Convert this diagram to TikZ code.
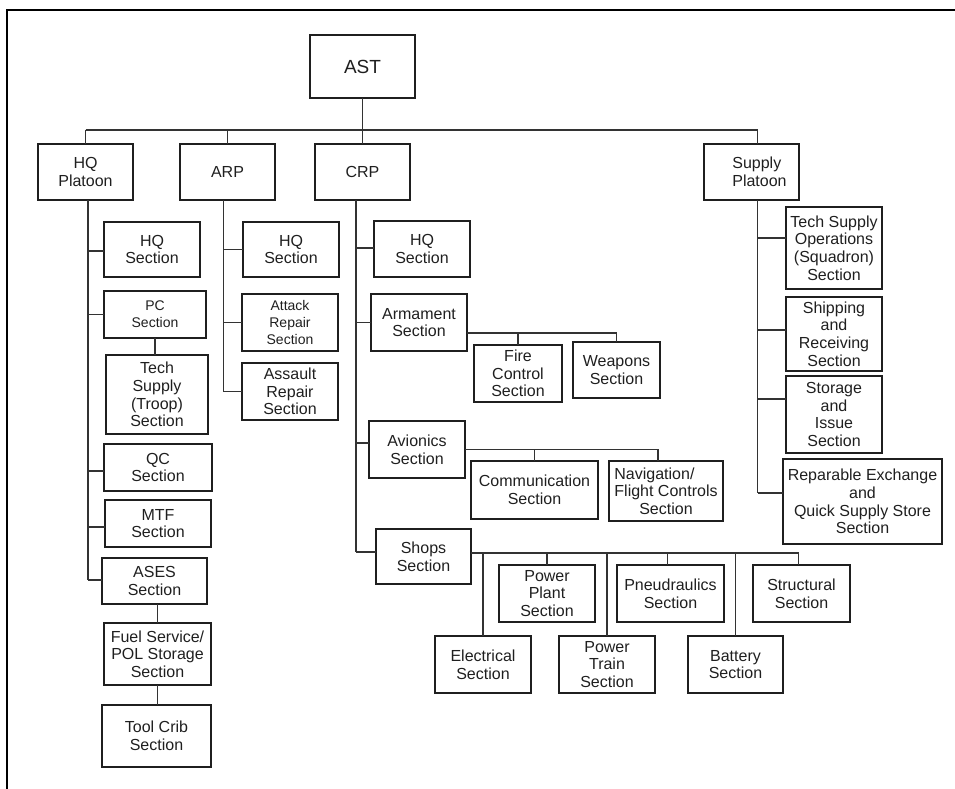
\documentclass[tikz,border=0pt]{standalone}
\usepackage{fontspec}
\setmainfont{Liberation Sans}

\tikzset{
  box/.style={draw=black!88, line width=1.6pt, inner sep=0pt, outer sep=0pt,
    align=center, text=black!88, font=\fontsize{16}{17.7}\selectfont},
  small/.style={font=\fontsize{14}{17}\selectfont},
  big/.style={font=\fontsize{19}{22}\selectfont},
  link/.style={draw=black!80, line width=1.2pt},
  frame/.style={draw=black, line width=2pt},
}

% \orgbox[opts]{name}{x1}{y1}{x2}{y2}{text}: box given by its corners (y grows downward)
\newcommand\orgbox[7][]{%
  \node[box,#1,minimum width={#5-#3},minimum height={#6-#4}] (#2)
    at ({(#3+#5)/2},{-(#4+#6)/2}) {#7};}

% \branch{spine}{node}{dy}: horizontal tie from a vertical spine to a node's west side
\newcommand\branch[3]{%
  \coordinate (brpt) at ([yshift=#3]#2.west);
  \draw[link] (#1 |- brpt) -- (brpt);}

\begin{document}
\begin{tikzpicture}[x=1pt,y=1pt]
\useasboundingbox (0,0) rectangle (955,-789);

% page frame (top and left rules)
\coordinate (fbl) at (7,-789);
\coordinate (ftl) at (7,-10);
\coordinate (ftr) at (955,-10);
\draw[frame] (fbl) -- (ftl) -- (ftr);

% top levels
\orgbox[big]{ast}{310}{35}{415}{98}{AST}
\orgbox{hqp}{38}{144}{133}{200}{HQ\\Platoon}
\orgbox{arp}{180}{144}{275}{200}{ARP}
\orgbox{crp}{315}{144}{410}{200}{CRP}
\orgbox[align=left]{sup}{704}{144}{799}{200}{\hspace*{16pt}Supply\\\hspace*{16pt}Platoon}

% HQ Platoon
\orgbox{hqs1}{104}{222}{200}{277}{HQ\\Section}
\orgbox[small]{pc}{104}{291}{206}{338}{PC\\Section}
\orgbox{tst}{106}{355}{208}{434}{Tech\\Supply\\(Troop)\\Section}
\orgbox{qc}{104}{444}{212}{491}{QC\\Section}
\orgbox{mtf}{105}{500}{211}{547}{MTF\\Section}
\orgbox{ases}{102}{558}{207}{604}{ASES\\Section}
\orgbox{fuel}{104}{623}{211}{685}{Fuel Service/\\POL Storage\\Section}
\orgbox{tool}{102}{705}{211}{767}{Tool Crib\\Section}

% ARP
\orgbox{hqs2}{243}{222}{339}{277}{HQ\\Section}
\orgbox[small]{atk}{242}{294}{338}{351}{Attack\\Repair\\Section}
\orgbox{asl}{242}{363}{338}{420}{Assault\\Repair\\Section}

% CRP
\orgbox{hqs3}{374}{221}{470}{277}{HQ\\Section}
\orgbox{arm}{371}{294}{467}{351}{Armament\\Section}
\orgbox{fc}{474}{345}{562}{402}{Fire\\Control\\Section}
\orgbox{wpn}{573}{342}{660}{398}{Weapons\\Section}
\orgbox{avi}{369}{421}{465}{478}{Avionics\\Section}
\orgbox{com}{471}{461}{598}{519}{Communication\\Section}
\orgbox{nav}{609}{461}{723}{521}{\rlap{Navigation/}\phantom{Flight Controls}\\Flight Controls\\Section}
\orgbox{shp}{376}{529}{471}{584}{Shops\\Section}
\orgbox{ele}{435}{636}{531}{693}{Electrical\\Section}
\orgbox{ppl}{499}{565}{595}{622}{Power\\Plant\\Section}
\orgbox{ptr}{559}{636}{655}{693}{Power\\Train\\Section}
\orgbox{pne}{617}{565}{724}{622}{Pneudraulics\\Section}
\orgbox{bat}{688}{636}{783}{693}{Battery\\Section}
\orgbox{str}{753}{565}{850}{622}{Structural\\Section}

% Supply Platoon
\orgbox{tso}{786}{207}{882}{289}{Tech Supply\\Operations\\(Squadron)\\Section}
\orgbox{shi}{786}{297}{882}{371}{Shipping\\and\\Receiving\\Section}
\orgbox{sti}{786}{376}{882}{453}{Storage\\and\\Issue\\Section}
\orgbox{rep}{783}{459}{942}{544}{Reparable Exchange\\and\\Quick Supply Store\\Section}

% top bus
\coordinate (bus) at (0,-130);
\coordinate (supdrop) at ([xshift=6pt]sup.north);
\draw[link] (ast.south) -- (ast.south |- bus);
\draw[link] (hqp.north |- bus) -- (supdrop |- bus);
\draw[link] (hqp.north |- bus) -- (hqp.north);
\draw[link] (arp.north |- bus) -- (arp.north);
\draw[link] (crp.north |- bus) -- (crp.north);
\draw[link] (supdrop |- bus) -- (supdrop);

% HQ Platoon spine
\coordinate (hqsp) at ([xshift=2.5pt]hqp.south);
\coordinate (hqend) at ([yshift=1pt]ases.west);
\draw[link] (hqsp) -- (hqsp |- hqend);
\branch{hqsp}{hqs1}{-1.5pt}
\branch{hqsp}{pc}{0pt}
\branch{hqsp}{qc}{-3.5pt}
\branch{hqsp}{mtf}{-3.5pt}
\branch{hqsp}{ases}{1pt}
\draw[link] (pc.south) -- (pc.south |- tst.north);
\draw[link] (fuel.north) -- (fuel.north |- ases.south);
\draw[link] (fuel.south) -- (fuel.south |- tool.north);

% ARP spine
\coordinate (arpsp) at ([xshift=-4pt]arp.south);
\draw[link] (arpsp) -- (arpsp |- asl.west);
\branch{arpsp}{hqs2}{0pt}
\branch{arpsp}{atk}{0pt}
\branch{arpsp}{asl}{0pt}

% CRP spine
\coordinate (crpsp) at ([xshift=-6.5pt]crp.south);
\coordinate (crpend) at ([yshift=4.5pt]shp.west);
\draw[link] (crpsp) -- (crpsp |- crpend);
\branch{crpsp}{hqs3}{1pt}
\branch{crpsp}{arm}{0pt}
\branch{crpsp}{avi}{6.5pt}
\branch{crpsp}{shp}{4.5pt}

% Armament sections
\coordinate (armbus) at ([yshift=-10.5pt]arm.east);
\draw[link] (armbus) -- (armbus -| wpn.north) -- (wpn.north);
\draw[link] (armbus -| fc.north) -- (fc.north);

% Avionics sections
\coordinate (navdrop) at ([xshift=-8pt]nav.north);
\draw[link] (avi.east) -- (avi.east -| navdrop) -- (navdrop);
\draw[link] (avi.east -| com.north) -- (com.north);

% Shops sections
\coordinate (shpbus) at ([yshift=3.5pt]shp.east);
\coordinate (strdrop) at ([xshift=-3pt]str.north);
\coordinate (pnedrop) at ([xshift=-3pt]pne.north);
\draw[link] (shpbus) -- (shpbus -| strdrop) -- (strdrop);
\draw[link] (shpbus -| ele.north) -- (ele.north);
\draw[link] (shpbus -| ppl.north) -- (ppl.north);
\draw[link] (shpbus -| ptr.north) -- (ptr.north);
\draw[link] (shpbus -| pnedrop) -- (pnedrop);
\draw[link] (shpbus -| bat.north) -- (bat.north);

% Supply Platoon spine
\coordinate (supsp) at (supdrop |- sup.south);
\coordinate (supend) at ([yshift=8.5pt]rep.west);
\draw[link] (supsp) -- (supsp |- supend);
\branch{supsp}{tso}{10pt}
\branch{supsp}{shi}{4pt}
\branch{supsp}{sti}{15.5pt}
\branch{supsp}{rep}{8.5pt}
\end{tikzpicture}
\end{document}
